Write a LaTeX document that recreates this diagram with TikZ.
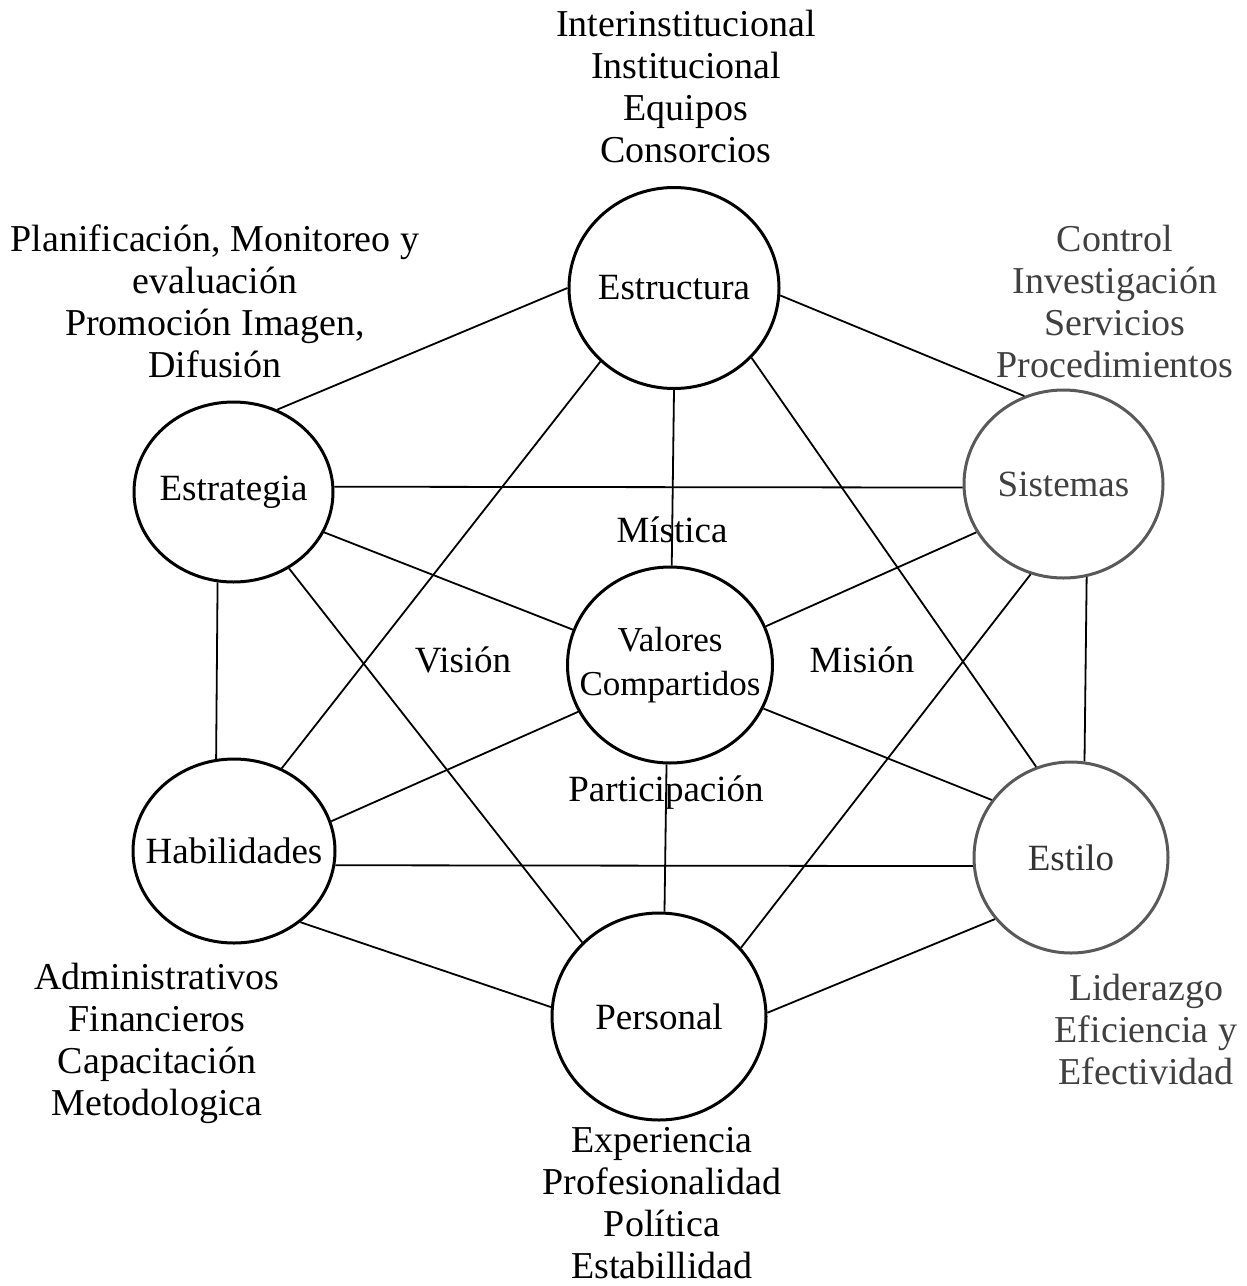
\documentclass[tikz,border=0pt]{standalone}
\usepackage{fontspec}
\setmainfont{Liberation Serif}
\usetikzlibrary{shapes.geometric}
\begin{document}
\begin{tikzpicture}[x=0.5pt,y=-0.5pt,
  element/.style={draw, shape=ellipse, line width=1.5pt, inner sep=0pt},
  caption/.style={inner sep=0pt, align=center, font=\fontsize{18.5}{22}\selectfont},
  soft/.style={draw=black!65},
  link/.style={line width=0.9pt},
  note/.style={align=center, inner sep=0pt, font=\fontsize{19}{21}\selectfont},
  tag/.style={inner sep=0pt, font=\fontsize{18.5}{22}\selectfont}
]
\useasboundingbox (0,0) rectangle (1247,1286);

% the seven elements (the name is a centred label, so it does not size the ellipse)
\node[element, minimum width=105pt, minimum height=100.5pt,
      label={[caption]center:Estructura}] (str) at (674,288) {};
\node[element, minimum width=99.5pt, minimum height=90pt,
      label={[caption]center:Estrategia}] (stg) at (233.5,492) {};
\node[element, soft, minimum width=99.5pt, minimum height=94pt,
      label={[caption, text=black!75]center:Sistemas}] (sis) at (1063.5,484) {};
\node[element, minimum width=102.5pt, minimum height=98pt,
      label={[caption, font=\fontsize{17.5}{22}\selectfont]center:Valores\\Compartidos}] (val) at (670,665) {};
\node[element, minimum width=101pt, minimum height=92pt,
      label={[caption]center:Habilidades}] (hab) at (234,851) {};
\node[element, soft, minimum width=97pt, minimum height=95.5pt,
      label={[caption, text=black!80]center:Estilo}] (sti) at (1071,857.5) {};
\node[element, minimum width=107pt, minimum height=103.5pt,
      label={[caption]center:Personal}] (per) at (659,1016.5) {};

% connections
\draw[link] (str.180) -- (stg.62);
\draw[link] (str.-4) -- (sis.114);
\draw[link] (str.225) -- (hab.60);
\draw[link] (str.-42) -- (sti.111);
\draw[link] (str.-90) -- (val.89);
\draw[link] (stg.3) -- (sis.182);
\draw[link] (stg.-24) -- (val.160);
\draw[link] (stg.-54) -- (per.136);
\draw[link] (stg.260) -- (hab.101);
\draw[link] (sis.209) -- (val.22);
\draw[link] (sis.250) -- (per.40);
\draw[link] (sis.-76) -- (sti.82);
\draw[link] (val.207) -- (hab.17);
\draw[link] (val.-25) -- (sti.144);
\draw[link] (val.268) -- (per.87);
\draw[link] (hab.-8) -- (sti.185);
\draw[link] (hab.-47) -- (per.175);
\draw[link] (sti.219) -- (per.2);

% labels around the centre
\node[tag] (mis) at (672,530) {Mística};
\node[tag] (vis) at (463,660) {Visión};
\node[tag] (mio) at (862,660) {Misión};
\node[tag] (par) at (666,793) {Participación};

% descriptions of each element
\node[note] (dstr) at (686,86) {Interinstitucional\\Institucional\\Equipos\\Consorcios};
\node[note] (dstg) at (215,301) {Planificación, Monitoreo y\\evaluación\\Promoción Imagen,\\Difusión};
\node[note, text=black!75] (dsis) at (1115,301) {Control\\Investigación\\Servicios\\Procedimientos};
\node[note] (dhab) at (157,1043) {Administrativos\\Financieros\\Capacitación\\Metodologica};
\node[note, text=black!75] (dsti) at (1146,1029) {Liderazgo\\Eficiencia y\\Efectividad};
\node[note] (dper) at (662,1203) {Experiencia\\Profesionalidad\\Política\\Estabillidad};
\end{tikzpicture}
\end{document}
